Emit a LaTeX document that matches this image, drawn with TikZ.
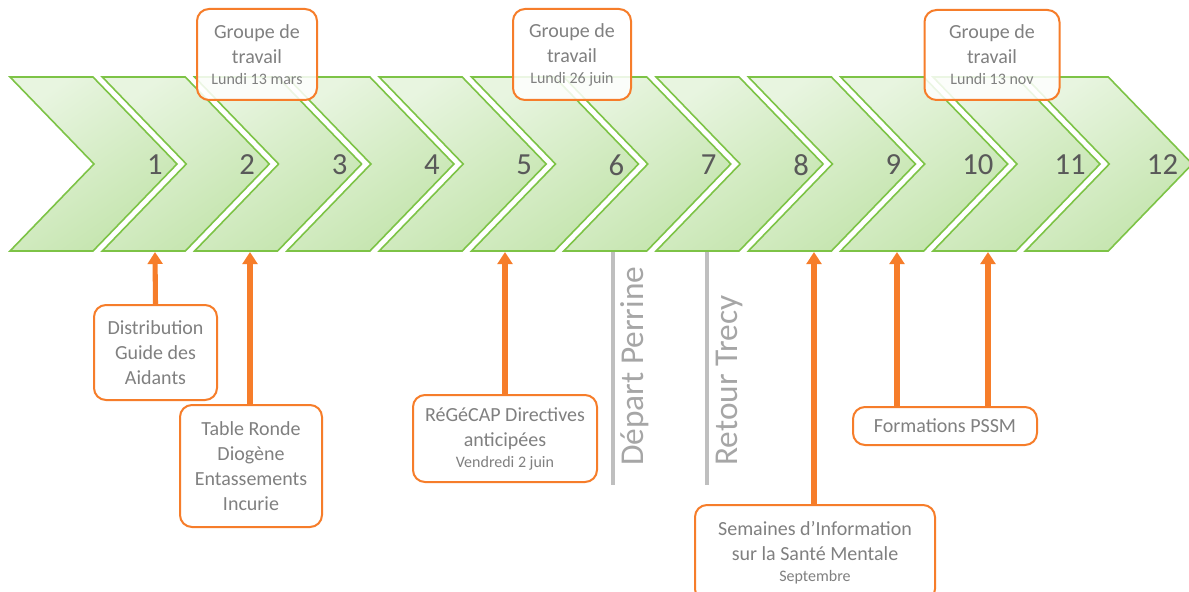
\documentclass[tikz,border=0pt]{standalone}
\usepackage{fontspec}
\setmainfont{Carlito}
\usetikzlibrary{arrows.meta}
\definecolor{chevgreen}{RGB}{125,195,70}
\definecolor{chevlight}{RGB}{232,245,224}
\definecolor{chevdark}{RGB}{195,228,172}
\definecolor{orangec}{RGB}{246,125,42}
\definecolor{txtgray}{RGB}{128,128,128}
\definecolor{numgray}{RGB}{89,89,89}
\definecolor{linegray}{RGB}{191,191,191}
\definecolor{vtxtgray}{RGB}{166,166,166}
\tikzset{
  chev/.style={draw=chevgreen, line width=1.2pt, line join=miter, top color=chevlight, bottom color=chevdark, shading angle=35},
  num/.style={text=numgray, font=\fontsize{23}{26}\selectfont, inner sep=0pt},
  obox/.style={draw=orangec, line width=1.5pt, rounded corners=9pt, fill=white, fill opacity=0.85, text opacity=1, text=txtgray, align=center, font=\fontsize{15}{18.75}\selectfont, inner sep=2pt},
  arr/.style={draw=orangec, line width=3.8pt, -{Triangle[width=11pt,length=9pt]}},
  gline/.style={draw=linegray, line width=2.4pt},
  vtxt/.style={text=vtxtgray, rotate=90, anchor=west, inner sep=0pt, font=\fontsize{25}{30}\selectfont}
}
\newcommand{\smallline}[1]{{\fontsize{12}{15}\selectfont #1}}
\begin{document}
\begin{tikzpicture}[x=0.75pt, y=-0.75pt]
\clip (0,0) rectangle (1189,592);
\fill[white] (0,0) rectangle (1189,592);
% chevrons
\foreach \i in {1,...,12} {
  \pgfmathsetmacro{\L}{10+92.3*(\i-1)}
  \path[chev] (\L,77) -- ++(83,0) -- ++(84,87) -- ++(-84,87) -- ++(-83,0) -- ++(84,-87) -- cycle;
  \node[num, anchor=east] (n\i) at (\L+153,165) {\i};
}
% top boxes
\node[obox, minimum width=120*0.75pt, minimum height=91*0.75pt] (g1) at (257,54.5) {Groupe de\\travail\\[-3pt]\smallline{Lundi 13 mars}};
\node[obox, minimum width=118*0.75pt, minimum height=91*0.75pt] (g2) at (572,54.5) {Groupe de\\travail\\[-3pt]\smallline{Lundi 26 juin}};
\node[obox, minimum width=135*0.75pt, minimum height=90*0.75pt] (g3) at (992,55) {Groupe de\\travail\\[-3pt]\smallline{Lundi 13 nov}};
% arrow targets
\coordinate (t1) at (155,252);
\coordinate (t2) at (250,252);
\coordinate (t5) at (505,252);
\coordinate (t8) at (814,252);
\coordinate (t9) at (897,252);
\coordinate (t10) at (988,252);
% bottom boxes
\node[obox, minimum width=123*0.75pt, minimum height=95*0.75pt] (d1) at (155.5,352.5) {Distribution\\Guide des\\Aidants};
\node[obox, minimum width=142*0.75pt, minimum height=122*0.75pt] (d2) at (251,466) {Table Ronde\\Diogène\\Entassements\\Incurie};
\node[obox, minimum width=184*0.75pt, minimum height=87*0.75pt] (r) at (505,438.5) {RéGéCAP Directives\\anticipées\\[-3pt]\smallline{Vendredi 2 juin}};
\node[obox, minimum width=240*0.75pt, minimum height=96*0.75pt] (s) at (815,553) {Semaines d’Information\\sur la Santé Mentale\\[-3pt]\smallline{Septembre}};
\node[obox, minimum width=184*0.75pt, minimum height=38*0.75pt] (f) at (945,426) {Formations PSSM};
% arrows
\draw[arr] (d1.north) -- (t1);
\draw[arr] (d2.north -| t2) -- (t2);
\draw[arr] (r.north -| t5) -- (t5);
\draw[arr] (s.north -| t8) -- (t8);
\draw[arr] (f.north -| t9) -- (t9);
\draw[arr] (f.north -| t10) -- (t10);
% gray vertical markers
\coordinate (p1) at (613,252);
\coordinate (p2) at (613,485);
\coordinate (q1) at (707,252);
\coordinate (q2) at (707,485);
\draw[gline] (p1) -- (p2);
\draw[gline] (q1) -- (q2);
\node[vtxt] (dp) at (635,466) {Départ Perrine};
\node[vtxt] (rt) at (729,466) {Retour Trecy};
\end{tikzpicture}
\end{document}
